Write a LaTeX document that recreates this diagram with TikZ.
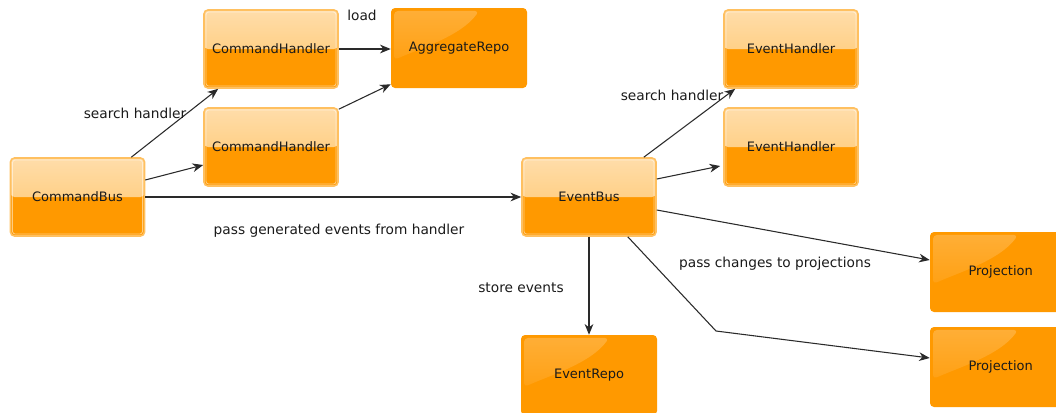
\documentclass[tikz,border=0pt]{standalone}
\usepackage{fontspec}
\setmainfont{DejaVu Sans}
\usetikzlibrary{arrows.meta,calc,fadings}
\definecolor{orangeA}{HTML}{FF9900}
\definecolor{lightTop}{HTML}{FFDDAA}
\definecolor{lightMid}{HTML}{FFC466}
\definecolor{edgeOr}{HTML}{FFC060}
\definecolor{lineGray}{HTML}{2A2A2A}
\definecolor{txt}{HTML}{1A1A1A}
\tikzset{
  x=0.75pt, y=-0.75pt,
  every node/.style={font=\fontsize{9.75}{12}\selectfont, text=txt},
  gloss/.style={rectangle, rounded corners=3pt, minimum width=100.5pt, minimum height=58.5pt,
    inner sep=0pt, draw=edgeOr, line width=1.2pt, fill=orangeA,
    path picture={
      \fill[top color=lightTop, bottom color=lightMid]
        (path picture bounding box.north west) rectangle (path picture bounding box.east);
      \draw[white, opacity=0.5, line width=0.6pt, rounded corners=2pt]
        ($(path picture bounding box.north west)+(2,2)$) rectangle ($(path picture bounding box.south east)+(-2,-2)$);
    }},
  solidbox/.style={rectangle, rounded corners=3pt, minimum width=102pt, minimum height=60pt,
    inner sep=0pt, fill=orangeA,
    path picture={
      \fill[white, opacity=0.22, path fading=south]
        ($(path picture bounding box.north west)+(3,3)$) -- ($(path picture bounding box.north west)+(88,3)$)
        .. controls ($(path picture bounding box.north west)+(70,28)$) and ($(path picture bounding box.north west)+(30,40)$)
        .. ($(path picture bounding box.north west)+(3,52)$) -- cycle;
    }},
  conn/.style={draw=lineGray, line width=0.8pt, -{Stealth[length=8pt, width=6.5pt, inset=2.5pt]}},
  lbl/.style={inner sep=0pt, font=\fontsize{10.3}{12}\selectfont}
}
\begin{document}
\begin{tikzpicture}
\useasboundingbox (0,0) rectangle (1056,412);
\node[gloss] (ch1) at (271,49) {CommandHandler};
\node[gloss] (ch2) at (271,147) {CommandHandler};
\node[solidbox] (ar) at (459,48) {AggregateRepo};
\node[gloss] (cb) at (77.5,197) {CommandBus};
\node[gloss] (eb) at (589,197) {EventBus};
\node[gloss] (eh1) at (791,49) {EventHandler};
\node[gloss] (eh2) at (791,147) {EventHandler};
\node[solidbox] (p1) at (998,272) {\hspace*{4pt}Projection};
\node[solidbox] (p2) at (998,367) {\hspace*{4pt}Projection};
\node[solidbox] (er) at (589,375) {EventRepo};
\coordinate (bend) at (716,331);

\draw[conn] ($(cb.north east)+(-14,0)$) -- ($(ch1.south west)+(15,0)$);
\draw[conn] ($(cb.east)+(0,-17)$) -- ($(ch2.west)+(0,18)$);
\draw[conn] (cb.east) -- (eb.west);
\draw[conn] (ch1.east) -- (ch1.east -| ar.west);
\draw[conn] ($(ch2.north east)+(0,2)$) -- ($(ar.south west)+(0,-4)$);
\draw[conn] ($(eb.north east)+(-13,0)$) -- ($(eh1.south west)+(12,0)$);
\draw[conn] ($(eb.east)+(0,-18)$) -- ($(eh2.west)+(-3,19)$);
\draw[conn] ($(eb.east)+(0,13)$) -- ($(p1.west)+(0,-12)$);
\draw[conn] ($(eb.south east)+(-29,0)$) -- (bend) -- ($(p2.west)+(0,-9)$);
\draw[conn] (eb.south) -- (er.north);

\node[lbl] (l1) at (135,113) {search handler};
\node[lbl] (l2) at (339,231) {pass generated events from handler};
\node[lbl] (l3) at (362,15) {load};
\node[lbl] (l4) at (672,95) {search handler};
\node[lbl] (l5) at (775,264) {pass changes to projections};
\node[lbl] (l6) at (521,288) {store events};
\end{tikzpicture}
\end{document}
